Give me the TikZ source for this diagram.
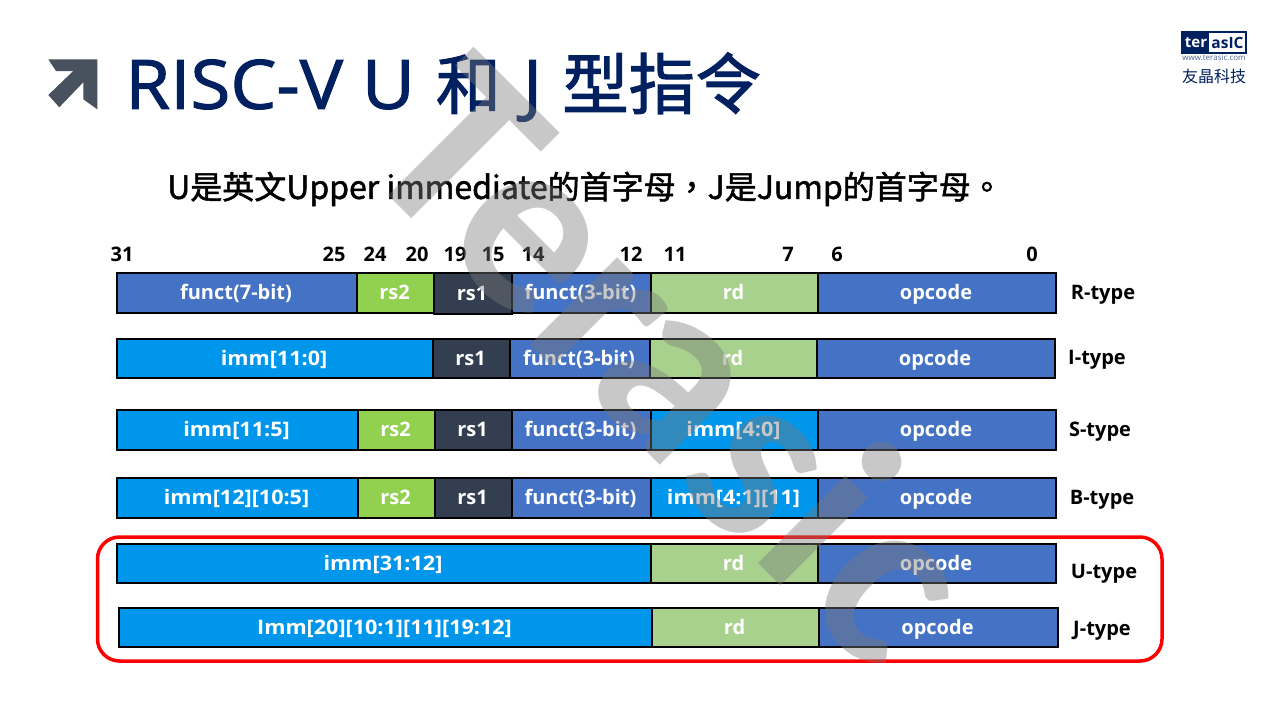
\documentclass[tikz,border=0pt]{standalone}
\usepackage{fontspec}
\setmainfont{Open Sans}
\newfontfamily\cjk{Noto Sans CJK TC}
\newfontfamily\cjkm[FakeBold=1.6]{Noto Sans CJK TC}
\newfontfamily\latm[FakeBold=1.6,FakeStretch=1.07]{Open Sans}
\newfontfamily\immf[FakeStretch=1.08]{Open Sans}
\newfontfamily\wm{Carlito}
\definecolor{navy}{HTML}{002060}
\definecolor{cblue}{HTML}{4472C4}
\definecolor{csky}{HTML}{0096EB}
\definecolor{cgreen}{HTML}{92D050}
\definecolor{cdark}{HTML}{333F50}
\definecolor{clime}{HTML}{A9D18E}
\definecolor{cicon}{HTML}{48525E}
\definecolor{cwm}{HTML}{7A7A7A}
\tikzset{
 lbl/.style={font=\bfseries\fontsize{20}{20}\selectfont,inner sep=0pt,text height=17pt,text depth=4pt},
 seg/.style={draw=black,line width=1.1pt,lbl,text=white},
 bitl/.style={lbl,text=black},
 typel/.style={lbl,text=black},
 wmark/.style={rotate=-45,anchor=base,inner sep=0pt,text=cwm,text opacity=.41,font=\wm\bfseries\fontsize{255}{255}\selectfont},
}
\newcommand{\seg}[8]{\path[seg,fill=#6] (#2,#4) rectangle (#3,#5); \node[seg,draw=none] (#1) at ({(#2+#3)/2-1},{(#4+#5)/2}) {#7#8};}
\begin{document}
\begin{tikzpicture}[x=1pt,y=-1pt]
\useasboundingbox (0,0) rectangle (1280,720);
\fill[white] (0,0) rectangle (1280,720);
\fill[cicon] (48.3,59.3)--(97.3,59.3)--(97.3,109.3)--(83.3,99.3)--(83.3,82.3)--(59.3,107.3)--(48.3,95)--(73.3,71)--(56,71)--cycle;
\node[anchor=west,text=navy,font=\latm\fontsize{68}{68}\selectfont,inner sep=0pt] (title) at (125,87) {RISC-V U\hspace{21pt}{\cjkm\fontsize{65}{68}\selectfont 和}\hspace{22pt}J\hspace{20pt}{\cjkm\fontsize{66.5}{68}\selectfont 型指令}};
\node[text=black,font=\cjkm\fontsize{32}{32}\selectfont,inner sep=0pt] (sub) at (585,189) {U是英文Upper immediate的首字母，J是Jump的首字母。};
\foreach \n/\x/\t in {a/122/31,b/334/25,c/375/24,d/417/20,e/455/19,f/493/15,g/533/14,h/631/12,i/675/11,j/788/7,k/837/6,l/1032/0}
 \node[bitl] (bit\n) at (\x,255) {\t};
\seg{r1}{117}{357}{273}{313}{cblue}{}{funct(7-bit)}
\seg{r2}{357}{434}{273}{313}{cgreen}{}{rs2}
\seg{r3}{434}{512}{273}{314}{cdark}{}{rs1}
\seg{r4}{512}{651}{273}{313}{cblue}{}{funct(3-bit)}
\seg{r5}{651}{818}{273}{313}{clime}{}{rd}
\seg{r6}{818}{1056}{273}{313}{cblue}{}{opcode}
\seg{i1}{117}{433}{339}{378}{csky}{\immf}{imm[11:0]}
\seg{i3}{433}{510}{339}{378}{cdark}{}{rs1}
\seg{i4}{510}{650}{339}{378}{cblue}{}{funct(3-bit)}
\seg{i5}{650}{817}{339}{378}{clime}{}{rd}
\seg{i6}{817}{1055}{339}{378}{cblue}{}{opcode}
\seg{s1}{117}{358}{410}{450}{csky}{\immf}{imm[11:5]}
\seg{s2}{358}{435}{410}{450}{cgreen}{}{rs2}
\seg{s3}{435}{512}{410}{450}{cdark}{}{rs1}
\seg{s4}{512}{651}{410}{450}{cblue}{}{funct(3-bit)}
\seg{s5}{651}{818}{410}{450}{csky}{\immf}{imm[4:0]}
\seg{s6}{818}{1056}{410}{450}{cblue}{}{opcode}
\seg{b1}{117}{358}{478}{518}{csky}{\immf}{imm[12][10:5]}
\seg{b2}{358}{435}{478}{518}{cgreen}{}{rs2}
\seg{b3}{435}{512}{478}{518}{cdark}{}{rs1}
\seg{b4}{512}{651}{478}{518}{cblue}{}{funct(3-bit)}
\seg{b5}{651}{818}{478}{518}{csky}{\immf}{imm[4:1][11]}
\seg{b6}{818}{1056}{478}{518}{cblue}{}{opcode}
\seg{u1}{117}{651}{544}{583}{csky}{\immf}{imm[31:12]}
\seg{u5}{651}{818}{544}{583}{clime}{}{rd}
\seg{u6}{818}{1056}{544}{583}{cblue}{}{opcode}
\seg{j1}{119}{652}{608}{647}{csky}{\immf}{Imm[20][10:1][11][19:12]}
\seg{j5}{652}{819}{608}{647}{clime}{}{rd}
\seg{j6}{819}{1058}{608}{647}{cblue}{}{opcode}
\node[typel] (tr) at (1103,292.5) {R-type};
\node[typel] (ti) at (1097,357.5) {I-type};
\node[typel] (ts) at (1100,429.5) {S-type};
\node[typel] (tb) at (1102,497.5) {B-type};
\node[typel] (tu) at (1104,571.5) {U-type};
\node[typel] (tj) at (1102,628.5) {J-type};
\draw[red,line width=3.5pt,rounded corners=22pt] (97.5,537) rectangle (1162,661);
\fill[navy] (1181,31) rectangle (1247,53.5);
\fill[white] (1209,33) rectangle (1245,52);
\node[inner sep=0pt,text=white,font=\bfseries\fontsize{15}{15}\selectfont] (lt) at (1196,42.5) {ter};
\node[inner sep=0pt,text=navy,font=\bfseries\fontsize{15.5}{15}\selectfont] (la) at (1227.5,42.5) {asIC};
\node[inner sep=0pt,text=navy!70,font=\fontsize{8}{8}\selectfont] (lw) at (1214,58) {www.terasic.com};
\node[inner sep=0pt,text=navy,font=\cjk\fontsize{16}{16}\selectfont] (lc) at (1214,76) {友晶科技};
\node[wmark] (wT) at (400,207) {T};
\node[wmark] (we) at (481,287) {e};
\node[wmark] (wr) at (553,368) {r};
\node[wmark] (wa) at (625,430) {a};
\node[wmark] (ws) at (708,517) {s};
\node[wmark] (wi) at (770,575) {i};
\node[wmark] (wc) at (837,640) {c};
\end{tikzpicture}
\end{document}
